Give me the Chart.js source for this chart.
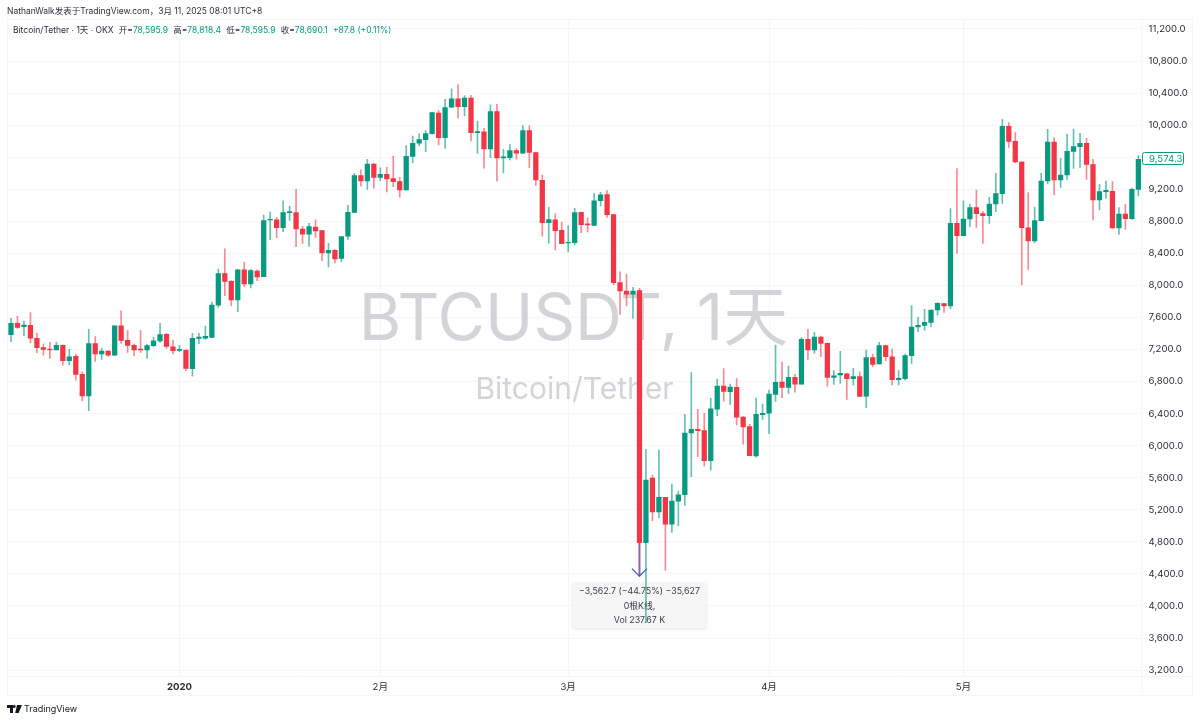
<!DOCTYPE html>
<html>
<head>
<meta charset="utf-8">
<script src="https://cdn.jsdelivr.net/npm/chart.js@4/dist/chart.umd.min.js"></script>
<style>
  html, body { margin: 0; padding: 0; background: #fff; }
  body { width: 1200px; height: 721px; position: relative; overflow: hidden; font-family: Inter, "Noto Sans CJK SC", sans-serif; color: #2a2e39; }
  canvas { position: absolute; left: 0; top: 0; }
  .label { position: absolute; white-space: nowrap; font-size: 8.5px; line-height: 12px; }
  .up { color: #089981; }
  #publisher { left: 7px; top: 5px; }
  #legend { left: 13px; top: 24px; }
  #legend span.gap { margin-left: 2.8px; }
  #logoText { left: 24px; top: 702px; font-size: 9px; line-height: 14px; color: #131722; }
  #logo { position: absolute; left: 7px; top: 705px; }
</style>
</head>
<body>
<canvas id="chart" width="1200" height="721"></canvas>
<div class="label" id="publisher">NathanWalk发表于TradingView.com，3月 11, 2025 08:01 UTC+8</div>
<div class="label" id="legend">Bitcoin/Tether · 1天 · OKX<span class="gap"></span> 开=<span class="up">78,595.9</span><span class="gap"></span> 高=<span class="up">78,818.4</span><span class="gap"></span> 低=<span class="up">78,595.9</span><span class="gap"></span> 收=<span class="up">78,690.1</span><span class="gap"></span> <span class="up">+87.8 (+0.11%)</span></div>
<svg id="logo" width="15" height="8" viewBox="0 0 15 8"><path fill="#131722" d="M0 0h6v8H3V3H0zM7.2 0a1.5 1.5 0 1 1 0 3 1.5 1.5 0 0 1 0-3zM10 0h5l-3.4 8H8.2z"/></svg>
<div class="label" id="logoText">TradingView</div>

<script>
// dias de las velas, 6 dic 2019 - 28 may 2020
const monthRanges = [['2019-12', 6, 31], ['2020-01', 1, 31], ['2020-02', 1, 29], ['2020-03', 1, 31], ['2020-04', 1, 30], ['2020-05', 1, 28]];
const categories = monthRanges.flatMap(([month, from, to]) => {
    const days = [];
    for (let d = from; d <= to; d++) days.push(`${month}-${String(d).padStart(2, '0')}`);
    return days;
});

const opens = [
    7385,7526,7485,7501,7339,7223,7206,7194,7252,7060,7115,6890,6620,7273,7144,7181,7131,7497,7314,7252,
    7206,7194,7248,7306,7389,7235,7189,7194,6960,7339,7343,7352,7755,8147,8050,7818,8193,8018,8180,8109,
    8817,8817,8721,8908,8908,8704,8638,8729,8683,8405,8438,8338,8613,8912,9370,9303,9515,9349,9387,9333,
    9295,9191,9611,9774,9819,9894,10152,9844,10223,10327,10231,10339,9907,9915,9703,10169,9591,9595,9682,9649,
    9932,9657,9312,8784,8817,8688,8530,8534,8912,8767,8750,9058,9133,8883,8034,7930,7892,7934,4789,5596,
    5172,5355,5022,5309,5388,6158,6204,6187,5812,6457,6744,6674,6728,6357,6237,5871,6387,6407,6640,6794,
    6728,6852,6769,7327,7194,7356,7277,6852,6882,6898,6836,6861,6619,7098,7019,7248,7110,6823,6836,7123,
    7481,7501,7539,7693,7772,7743,8775,8621,8829,8970,8895,8870,9016,9145,9985,9798,9540,8720,8554,8808,
    9303,9790,9315,9378,9673,9731,9773,9507,9066,9170,9174,8716,8891,8833,9199
];
const highs = [
    7589,7618,7555,7660,7402,7268,7289,7293,7260,7202,7144,6923,7451,7360,7214,7185,7497,7684,7435,7268,
    7435,7264,7352,7526,7402,7318,7252,7194,7402,7402,7493,7788,8205,8455,8060,8200,8288,8201,8193,8879,
    8916,8850,9054,8987,9199,8733,8775,8817,8688,8525,8446,8609,8999,9399,9441,9574,9524,9466,9474,9615,
    9349,9744,9865,9890,9932,10160,10181,10323,10452,10506,10368,10373,10052,9961,10252,10260,9699,9757,9707,9994,
    9994,9665,9378,8975,8892,8788,8746,8962,8912,8842,9150,9162,9183,8890,8171,8142,7976,7965,5954,5634,
    5946,5355,5521,5434,6391,6911,6453,6403,6590,6832,6961,6769,6836,6362,6266,6595,6520,6694,7256,7044,
    6994,6890,7348,7451,7414,7368,7285,6936,7177,6902,6965,6923,7194,7144,7289,7256,7206,6936,7144,7747,
    7601,7701,7693,7784,7776,8958,9457,9057,9012,9191,8920,9099,9399,10072,10031,9906,9545,9157,8974,9399,
    9948,9844,9586,9889,9952,9898,9835,9573,9261,9303,9295,8970,9012,9215,9619
];
const lows = [
    7298,7464,7372,7285,7160,7131,7090,7194,7006,7010,6819,6561,6436,7052,7077,7115,7123,7277,7164,7123,
    7164,7090,7235,7285,7214,7144,7173,6936,6869,7273,7327,7347,7726,7872,7747,7672,7985,7968,8060,8109,
    8571,8596,8671,8812,8484,8525,8488,8600,8309,8230,8280,8297,8575,8908,9237,9199,9212,9308,9166,9233,
    9100,9191,9532,9740,9670,9886,9753,9711,10219,10086,10115,9803,9649,9462,9595,9304,9403,9566,9574,9645,
    9470,9249,8613,8526,8442,8522,8417,8505,8659,8667,8746,8991,8850,8005,7639,7743,7589,4789,3795,5060,
    5101,4448,4918,5001,5255,5613,5862,5746,5696,6374,6557,6516,6258,6020,5871,5858,6328,6149,6553,6599,
    6653,6669,6769,7077,7152,7110,6744,6765,6778,6578,6757,6611,6474,6986,7019,7060,6757,6757,6819,7027,
    7422,7443,7485,7630,7664,7709,8400,8621,8733,8725,8525,8775,8920,9024,9723,9532,8005,8200,8533,8804,
    9265,9128,9224,9324,9461,9473,9324,8816,8941,9087,8712,8637,8700,8825,9116
];
const closes = [
    7526,7476,7506,7343,7223,7202,7194,7252,7060,7110,6890,6620,7273,7144,7181,7131,7497,7314,7252,7194,
    7194,7248,7310,7385,7239,7185,7202,6965,7339,7356,7364,7755,8147,8051,7818,8193,8018,8184,8105,8808,
    8825,8721,8908,8921,8704,8638,8733,8679,8405,8438,8330,8609,8912,9370,9303,9515,9349,9387,9328,9295,
    9191,9611,9774,9819,9894,10156,9844,10219,10327,10231,10339,9907,9919,9703,10169,9591,9603,9682,9649,9932,
    9661,9316,8784,8821,8684,8522,8538,8908,8759,8754,9054,9129,8883,8034,7930,7892,7930,4789,5571,5172,
    5355,5022,5309,5388,6158,6204,6187,5812,6461,6744,6678,6732,6357,6233,5875,6391,6403,6644,6790,6728,
    6852,6769,7327,7194,7356,7277,6852,6873,6902,6836,6861,6615,7098,7015,7248,7110,6823,6840,7123,7481,
    7501,7539,7693,7776,7743,8775,8621,8829,8970,8895,8870,9016,9145,9985,9798,9540,8720,8554,8808,9303,
    9790,9315,9378,9673,9731,9773,9511,9066,9170,9186,8716,8891,8833,9199,9574
];

const monthTickDays = ['2020-01-01', '2020-02-01', '2020-03-01', '2020-04-01', '2020-05-01'];
const monthTickLabels = ['2020', '2月', '3月', '4月', '5月'];
const hiddenPriceTicks = [9600]; // tapado por la etiqueta del ultimo precio

// herramienta de medicion sobre la vela del desplome
const measureDay = categories[97];
const measureFrom = 7934;
const measureTo = 4372;
const measureLines = ['−3,562.7 (−44.75%) −35,627', '0根K线,', 'Vol 237.67 K'];
const lastPrice = 9574.3;

const upColor = '#089981';
const downColor = '#f23645';
const upWick = 'rgba(8,153,129,0.62)';
const downWick = 'rgba(242,54,69,0.58)';
const gridColor = '#f5f6f9';
const fontName = 'Inter, "Noto Sans CJK SC", sans-serif';

const isUp = (i) => closes[i] >= opens[i];
const priceText = (v) => v.toLocaleString('en-US', { minimumFractionDigits: 1, maximumFractionDigits: 1 });

// marco, marca de agua y medicion van debajo de las velas
const backdrop = {
    id: 'backdrop',
    beforeDraw(chart) {
        const { ctx, chartArea } = chart;
        ctx.save();
        ctx.strokeStyle = gridColor;
        ctx.lineWidth = 1;
        ctx.strokeRect(7.5, chartArea.top - 0.5, 1185, 676);
        ctx.beginPath();
        ctx.moveTo(chartArea.right + 0.5, chartArea.top);
        ctx.lineTo(chartArea.right + 0.5, 696);
        ctx.moveTo(7.5, chartArea.bottom + 0.5);
        ctx.lineTo(1192.5, chartArea.bottom + 0.5);
        ctx.stroke();
        ctx.restore();
    },
    beforeDatasetsDraw(chart) {
        const { ctx, scales } = chart;
        ctx.save();
        ctx.textAlign = 'center';
        ctx.textBaseline = 'middle';
        ctx.fillStyle = '#d3d4d8';
        ctx.font = `65px ${fontName}`;
        ctx.fillText('BTCUSDT, 1天', 573.5, 320);
        ctx.font = `30px ${fontName}`;
        ctx.fillText('Bitcoin/Tether', 574.5, 390);

        const x = scales.x.getPixelForValue(categories.indexOf(measureDay));
        const yFrom = scales.y.getPixelForValue(measureFrom);
        const yTo = scales.y.getPixelForValue(measureTo);
        ctx.strokeStyle = '#8a66a8';
        ctx.lineWidth = 2;
        ctx.beginPath();
        ctx.moveTo(x, yFrom);
        ctx.lineTo(x, yTo);
        ctx.stroke();
        ctx.strokeStyle = '#3f4fc4';
        ctx.lineWidth = 1.2;
        ctx.beginPath();
        ctx.moveTo(x - 7.5, yTo - 7.5);
        ctx.lineTo(x, yTo);
        ctx.lineTo(x + 7.5, yTo - 7.5);
        ctx.stroke();

        // recuadro de la medicion
        ctx.shadowColor = 'rgba(0,0,0,0.12)';
        ctx.shadowBlur = 3;
        ctx.shadowOffsetY = 1;
        ctx.fillStyle = '#f6f6f7';
        ctx.beginPath();
        ctx.roundRect(x - 67, yTo + 6, 134, 46, 4);
        ctx.fill();
        ctx.shadowColor = 'transparent';
        ctx.fillStyle = '#3a3e48';
        ctx.font = `8.8px ${fontName}`;
        measureLines.forEach((line, i) => ctx.fillText(line, x, yTo + 15.5 + i * 14.5));
        ctx.restore();
    },
    afterDraw(chart) {
        const { ctx, scales } = chart;
        const y = Math.round(scales.y.getPixelForValue(lastPrice));
        ctx.save();
        ctx.fillStyle = '#fff';
        ctx.strokeStyle = upColor;
        ctx.lineWidth = 1;
        ctx.beginPath();
        ctx.roundRect(1142.5, y - 6.5, 41, 12, 2);
        ctx.fill();
        ctx.stroke();
        ctx.fillStyle = upColor;
        ctx.font = `9.6px ${fontName}`;
        ctx.textAlign = 'left';
        ctx.textBaseline = 'middle';
        ctx.fillText(priceText(lastPrice), 1149, y);
        ctx.restore();
    }
};

new Chart(document.querySelector('#chart'), {
    type: 'bar',
    data: {
        labels: categories,
        datasets: [
            {
                label: 'wick',
                data: categories.map((_, i) => [lows[i], highs[i]]),
                backgroundColor: categories.map((_, i) => isUp(i) ? upWick : downWick),
                barThickness: 1,
                grouped: false,
                order: 2
            },
            {
                label: 'body',
                data: categories.map((_, i) => [opens[i], closes[i]]),
                backgroundColor: categories.map((_, i) => isUp(i) ? upColor : downColor),
                barThickness: 4.6,
                grouped: false,
                order: 1
            }
        ]
    },
    options: {
        responsive: false,
        animation: false,
        layout: { padding: { left: 7.76, top: 20 } },
        plugins: { legend: { display: false }, tooltip: { enabled: false } },
        scales: {
            x: {
                offset: true,
                border: { display: false },
                grid: { color: gridColor, offset: false, drawTicks: false },
                afterBuildTicks: (axis) => {
                    axis.ticks = monthTickDays.map((day) => ({ value: categories.indexOf(day) }));
                },
                afterFit: (axis) => { axis.height = 45; },
                ticks: {
                    autoSkip: false,
                    maxRotation: 0,
                    padding: 5,
                    color: '#2a2e39',
                    font: (ctx) => ({ family: fontName, size: 9.6, weight: ctx.index === 0 ? 'bold' : 'normal' }),
                    callback: (value) => monthTickLabels[monthTickDays.indexOf(categories[value])]
                }
            },
            y: {
                position: 'right',
                min: 3126,
                max: 11312,
                border: { display: false },
                grid: { color: gridColor, drawTicks: false },
                afterFit: (axis) => { axis.width = 58.4; },
                ticks: {
                    stepSize: 400,
                    includeBounds: false,
                    autoSkip: false,
                    crossAlign: 'near',
                    padding: 7,
                    color: '#2a2e39',
                    font: { family: fontName, size: 9.6 },
                    callback: (value) => hiddenPriceTicks.includes(value) ? '' : priceText(value)
                }
            }
        }
    },
    plugins: [backdrop]
});
</script>
</body>
</html>
